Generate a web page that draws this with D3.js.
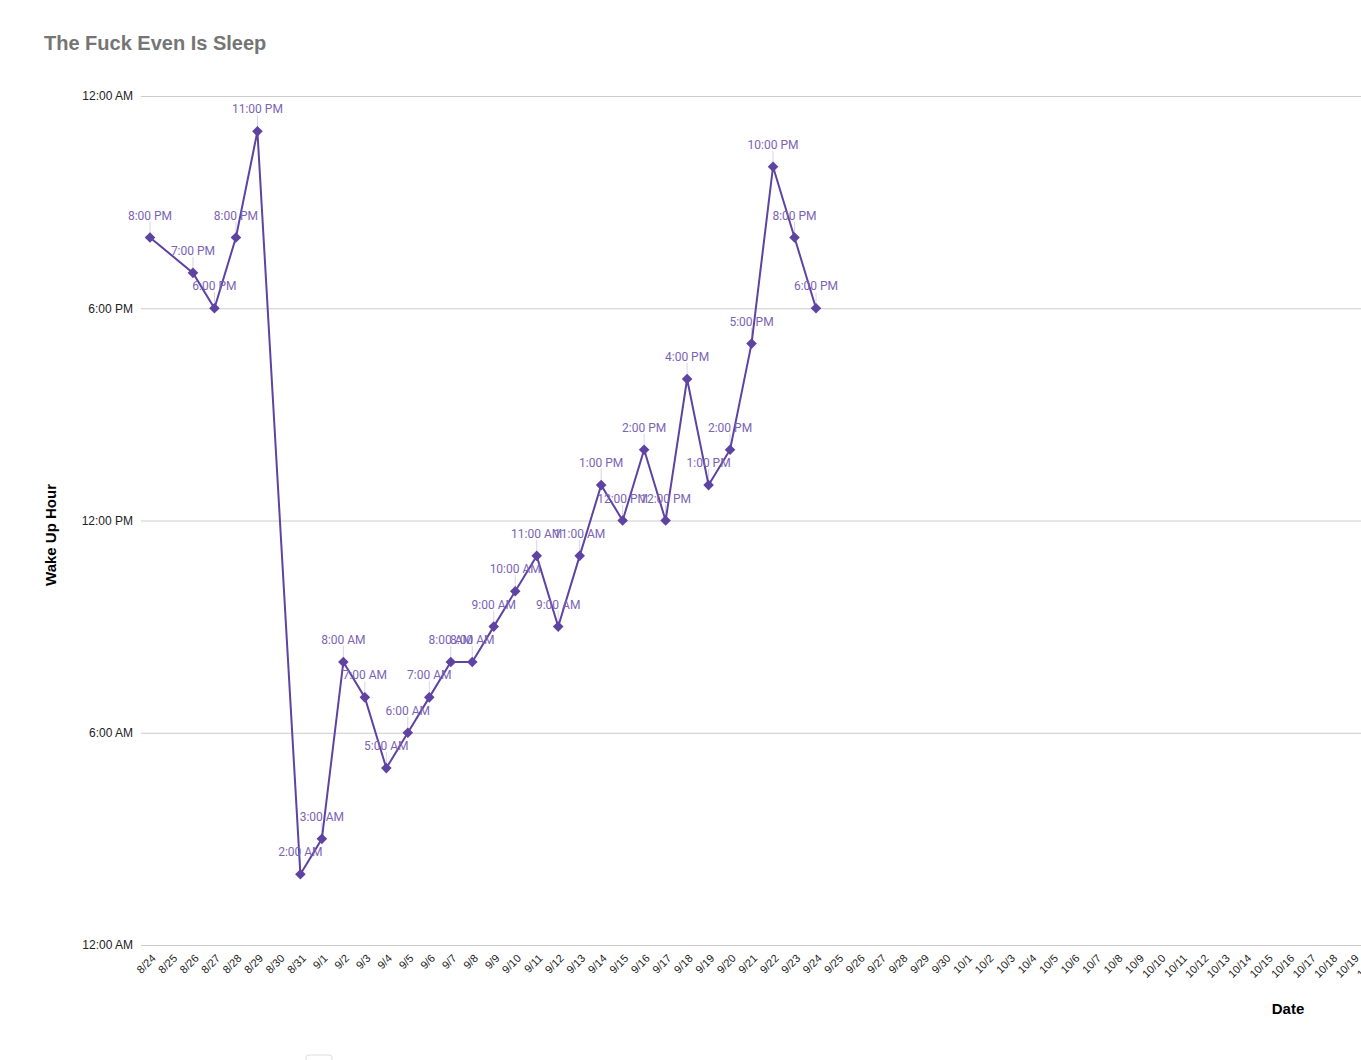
<!DOCTYPE html>
<html><head><meta charset="utf-8">
<script src="https://cdn.jsdelivr.net/npm/d3@7"></script>
<style>body{margin:0;background:#fff;overflow:hidden}svg{display:block}</style>
</head><body>
<svg id="c" width="1361" height="1060"></svg>
<script>
const dates = ["8/24","8/26","8/27","8/28","8/29","8/31","9/1","9/2","9/3","9/4","9/5","9/6","9/7","9/8","9/9","9/10","9/11","9/12","9/13","9/14","9/15","9/16","9/17","9/18","9/19","9/20","9/21","9/22","9/23","9/24"];
const wakeHours = [20,19,18,20,23,2,3,8,7,5,6,7,8,8,9,10,11,9,11,13,12,14,12,16,13,14,17,22,20,18];
const yTicks = [0,6,12,18,24];
const yTickLabels = ["12:00 AM","6:00 AM","12:00 PM","6:00 PM","12:00 AM"];
const axisStart = "8/24", axisEnd = "10/20";
const title = "The Fuck Even Is Sleep";

const parse = s => { const [m,d] = s.split("/").map(Number); return new Date(Date.UTC(2018, m-1, d)); };
const fmtHour = h => { const hh = h % 12 === 0 ? 12 : h % 12; return hh + ":00 " + (h < 12 ? "AM" : "PM"); };
const data = dates.map((d,i) => ({date: parse(d), v: wakeHours[i]}));

const svg = d3.select("#c");
const x = d3.scaleUtc().domain([parse("8/24"), parse("9/24")]).range([150, 816]);
const y = d3.scaleLinear().domain([0, 24]).range([945, 96]);
const plotL = 141, plotR = 1361;

svg.append("text").attr("x", 44).attr("y", 50).text(title)
  .attr("font-family", "Liberation Sans, Arial, sans-serif").attr("font-weight", "bold")
  .attr("font-size", 20).attr("fill", "#757575");

// grid + y labels
const yAxis = d3.axisLeft(y).tickValues(yTicks).tickFormat((d,i) => yTickLabels[i]).tickSize(-(plotR - plotL)).tickPadding(7);
const gy = svg.append("g").attr("transform", `translate(${plotL},0)`).call(yAxis);
gy.select(".domain").remove();
gy.selectAll(".tick line").attr("stroke", "#cccccc").attr("stroke-width", 1);
gy.selectAll(".tick text").attr("font-family", "Liberation Sans, Arial, sans-serif").attr("font-size", 12).attr("fill", "#222").attr("x", -8);

// x axis labels
const allDays = d3.utcDay.range(parse(axisStart), d3.utcDay.offset(parse(axisEnd), 1));
const xAxis = d3.axisBottom(x).tickValues(allDays).tickFormat(d => (d.getUTCMonth()+1) + "/" + d.getUTCDate()).tickSize(0).tickPadding(0);
const gx = svg.append("g").attr("transform", `translate(0,945)`).call(xAxis);
gx.select(".domain").remove();
gx.selectAll(".tick text")
  .attr("font-family", "Liberation Sans, Arial, sans-serif").attr("font-size", 11).attr("fill", "#222")
  .attr("text-anchor", "end").attr("dy", null).attr("y", 0)
  .attr("transform", "translate(6,14) rotate(-45)");

// axis titles
svg.append("text").attr("transform", "translate(56,535) rotate(-90)").attr("text-anchor", "middle")
  .attr("font-family", "Liberation Sans, Arial, sans-serif").attr("font-weight", "bold").attr("font-size", 15).attr("fill", "#000").text("Wake Up Hour");
svg.append("text").attr("x", 1288).attr("y", 1014).attr("text-anchor", "middle")
  .attr("font-family", "Liberation Sans, Arial, sans-serif").attr("font-weight", "bold").attr("font-size", 15).attr("fill", "#000").text("Date");

const color = "#5e43a2";
// leader lines
svg.append("g").selectAll("line").data(data).join("line")
  .attr("x1", d => x(d.date)).attr("x2", d => x(d.date))
  .attr("y1", d => y(d.v) - 16).attr("y2", d => y(d.v) - 4)
  .attr("stroke", "#d9d2ea").attr("stroke-width", 1);

svg.append("path").datum(data)
  .attr("d", d3.line().x(d => x(d.date)).y(d => y(d.v)))
  .attr("fill", "none").attr("stroke", color).attr("stroke-width", 2);

svg.append("g").selectAll("path").data(data).join("path")
  .attr("d", d3.symbol(d3.symbolSquare, 56)())
  .attr("transform", d => `translate(${x(d.date)},${y(d.v)}) rotate(45)`)
  .attr("fill", color);

svg.append("g").selectAll("text").data(data).join("text")
  .attr("x", d => x(d.date)).attr("y", d => y(d.v) - 18)
  .attr("text-anchor", "middle")
  .attr("font-family", "Roboto, sans-serif").attr("font-size", 12).attr("fill", "#7b64b5")
  .text(d => fmtHour(d.v));

svg.append("rect").attr("x", 306).attr("y", 1055).attr("width", 26).attr("height", 10).attr("rx", 3)
  .attr("fill", "#fff").attr("stroke", "#dddddd");
</script>
</body></html>
